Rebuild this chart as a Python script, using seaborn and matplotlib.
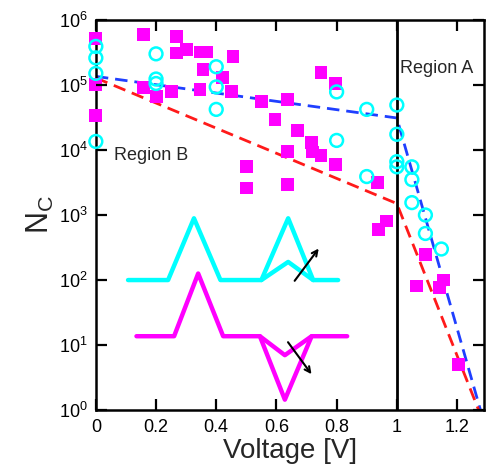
import matplotlib
matplotlib.use("Agg")
import matplotlib.pyplot as plt
import seaborn as sns

sq_v = [0, 0, 0, 0.157, 0.268, 0.268, 0.30, 0.346, 0.368, 0.356, 0.42, 0.456, 0.451,
        0.346, 0.157, 0.201, 0.251, 0.50, 0.50, 0.55, 0.595, 0.637, 0.669, 0.717, 0.72,
        0.748, 0.637, 0.637, 0.797, 0.748, 0.797, 0.935, 0.966, 0.938, 1.096, 1.065,
        1.154, 1.143, 1.206]
sq_n = [5.2e5, 1.0e5, 3.4e4, 6.0e5, 5.5e5, 3.1e5, 3.5e5, 3.2e5, 3.2e5, 1.7e5, 1.3e5,
        2.75e5, 7.9e4, 8.5e4, 9.1e4, 6.6e4, 7.9e4, 5.5e3, 2.6e3, 5.5e4, 2.95e4, 6.0e4,
        2.0e4, 1.3e4, 9.3e3, 8.3e3, 9.5e3, 2.95e3, 6.0e3, 1.55e5, 1.05e5, 3.2e3, 810,
        600, 245, 81, 100, 76, 5.1]

ci_v = [0, 0, 0, 0, 0.2, 0.2, 0.2, 0.4, 0.4, 0.4, 0.8, 0.8, 0.9, 0.9, 1.0, 1.0, 1.0,
        1.0, 1.05, 1.05, 1.05, 1.095, 1.095, 1.148]
ci_n = [3.9e5, 2.6e5, 1.5e5, 1.35e4, 3.0e5, 1.23e5, 1.05e5, 1.9e5, 9.3e4, 4.2e4,
        7.8e4, 1.4e4, 4.2e4, 3.9e3, 4.9e4, 1.74e4, 6.6e3, 5.5e3, 5.5e3, 3.5e3, 1.55e3,
        1.0e3, 5.2e2, 3.0e2]

# fitted guide lines
blue_v = [0, 1.0, 1.278]
blue_n = [1.35e5, 3.1e4, 1]
red_v = [0, 1.0, 1.272]
red_n = [1.28e5, 1.5e3, 1]

# sketch of the pulse shapes
cy_v = [0.107, 0.24, 0.326, 0.414, 0.55, 0.639, 0.722, 0.805]
cy_n = [100, 100, 890, 100, 100, 890, 100, 100]
cy2_v = [0.55, 0.639, 0.722]
cy2_n = [100, 190, 100]
mg_v = [0.135, 0.26, 0.34, 0.423, 0.545, 0.628, 0.717, 0.835]
mg_n = [13.7, 13.7, 126, 13.7, 13.7, 1.45, 13.7, 13.7]
mg2_v = [0.545, 0.628, 0.717]
mg2_n = [13.7, 7.0, 13.7]

arrow_up = [(0.655, 90), (0.746, 330)]
arrow_dn = [(0.633, 12), (0.722, 3.3)]

x_ticks = [0, 0.2, 0.4, 0.6, 0.8, 1.0, 1.2]
x_labels = ['0', '0.2', '0.4', '0.6', '0.8', '1', '1.2']
y_ticks = [1, 10, 100, 1e3, 1e4, 1e5, 1e6]
y_labels = [r'$10^{0}$', r'$10^{1}$', r'$10^{2}$', r'$10^{3}$', r'$10^{4}$',
            r'$10^{5}$', r'$10^{6}$']

sns.set_style("ticks")
plt.rcParams.update({
    'font.family': ['Liberation Sans', 'DejaVu Sans'],
    'mathtext.fontset': 'custom',
    'mathtext.rm': 'Liberation Sans',
    'mathtext.it': 'Liberation Sans',
    'axes.axisbelow': False,
})

fig = plt.figure(figsize=(4.89, 4.72), dpi=100)
ax = fig.add_axes([0.196, 0.131, 0.794, 0.827])
ax.set_yscale('log')

sns.lineplot(x=blue_v, y=blue_n, ax=ax, color='#1f3fff', lw=2,
             linestyle=(0, (4.5, 2.5)), sort=False, estimator=None)
sns.lineplot(x=red_v, y=red_n, ax=ax, color='#ff1a1a', lw=2,
             linestyle=(0, (4.5, 2.5)), sort=False, estimator=None)
ax.axvline(1.0, color='black', lw=2)

for xv, yv, c in [(cy_v, cy_n, '#00ffff'), (cy2_v, cy2_n, '#00ffff'),
                  (mg_v, mg_n, '#ff00ff'), (mg2_v, mg2_n, '#ff00ff')]:
    sns.lineplot(x=xv, y=yv, ax=ax, color=c, lw=3.2, sort=False, estimator=None)

for (x0, y0), (x1, y1) in [arrow_up, arrow_dn]:
    ax.annotate('', xy=(x1, y1), xytext=(x0, y0),
                arrowprops=dict(arrowstyle='->', color='black', lw=1.5))

sns.scatterplot(x=sq_v, y=sq_n, ax=ax, marker='s', s=85, color='#ff00ff',
                edgecolor='none', zorder=3, clip_on=False)
sns.scatterplot(x=ci_v, y=ci_n, ax=ax, marker='o', s=85, facecolor='none',
                edgecolor='#00ffff', linewidth=1.8, zorder=4, clip_on=False)

ax.text(1.01, 1.5e5, 'Region A', fontsize=13)
ax.text(0.06, 7.0e3, 'Region B', fontsize=13)

ax.set_xlim(0, 1.29)
ax.set_ylim(1, 1e6)
ax.set_xticks(x_ticks)
ax.set_xticklabels(x_labels)
ax.set_yticks(y_ticks)
ax.set_yticklabels(y_labels)
ax.minorticks_off()
for s in ax.spines.values():
    s.set_linewidth(1.8)
    s.set_color('black')
    s.set_visible(True)

# inward tick marks on all four sides
tl = 0.029
xt = ax.get_xaxis_transform()
yt = ax.get_yaxis_transform()
ax.vlines(x_ticks, 0, tl, transform=xt, color='black', lw=1.6, zorder=5, clip_on=False)
ax.vlines(x_ticks, 1 - tl, 1, transform=xt, color='black', lw=1.6, zorder=5, clip_on=False)
ax.hlines(y_ticks, 0, tl, transform=yt, color='black', lw=1.6, zorder=5, clip_on=False)
ax.hlines(y_ticks, 1 - tl, 1, transform=yt, color='black', lw=1.6, zorder=5, clip_on=False)

ax.tick_params(axis='both', which='major', direction='in', length=0,
               labelsize=13, labelcolor='black', pad=6)

ax.set_xlabel('Voltage [V]', fontsize=20, labelpad=2)
ax.set_ylabel(r'$\mathregular{N_C}$', fontsize=22, labelpad=2)

plt.savefig('out.png', dpi=100)
